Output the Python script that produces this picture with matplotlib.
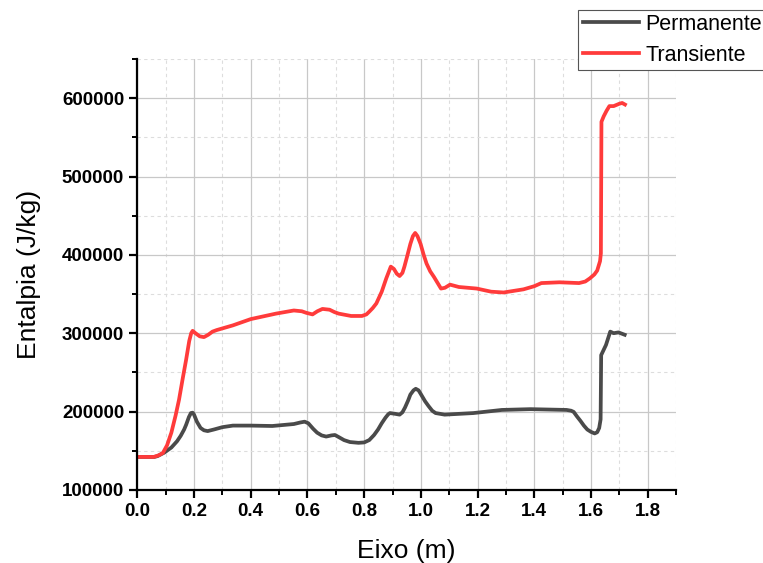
import matplotlib.pyplot as plt
from matplotlib.ticker import MultipleLocator

# dados
x_perm = [0.0, 0.06, 0.071, 0.095, 0.12, 0.14, 0.153, 0.165, 0.172, 0.182, 0.189, 0.195,
          0.2, 0.21, 0.223, 0.235, 0.248, 0.27, 0.3, 0.337,
          0.4, 0.476, 0.552, 0.575, 0.59, 0.603, 0.62, 0.634, 0.65, 0.666, 0.685, 0.697,
          0.712, 0.729, 0.75, 0.78, 0.8, 0.818, 0.835,
          0.849, 0.862, 0.875, 0.885, 0.891, 0.91, 0.925, 0.935, 0.944, 0.955, 0.963,
          0.974, 0.982, 0.992, 1.001, 1.015, 1.027, 1.04, 1.052,
          1.084, 1.185, 1.286, 1.387, 1.514, 1.53, 1.539, 1.55, 1.563, 1.575, 1.587, 1.6,
          1.613, 1.622, 1.629, 1.634, 1.636, 1.653, 1.668, 1.68, 1.697, 1.719]
h_perm = [142000, 142000, 143000, 147500, 154000, 162000, 169000, 177000, 183000, 193000,
          198000, 198500, 196000, 187000, 179000, 176000, 175000, 177000, 180000, 182000,
          182000, 181500, 184000, 186000, 187000, 185000, 178000, 173000, 169500, 168000,
          169500, 170000, 167000, 163500, 161000, 160000, 160500, 163500, 170000,
          177000, 185000, 192000, 196500, 198000, 197000, 196000, 199000, 205000, 214000,
          221600, 227000, 229000, 227000, 221600, 213000, 207000, 201000, 198000,
          196000, 198000, 202000, 203000, 202000, 201000, 199500, 194000, 188000, 182000,
          177000, 174000, 172000, 173500, 179000, 190000, 272000,
          285000, 302000, 300000, 301000, 298000]

x_trans = [0.0, 0.058, 0.075, 0.09, 0.105, 0.12, 0.135, 0.147, 0.16, 0.172, 0.183, 0.19,
           0.195, 0.205, 0.22, 0.235, 0.25, 0.265, 0.28, 0.337, 0.4,
           0.489, 0.552, 0.58, 0.596, 0.618, 0.635, 0.653, 0.678, 0.695, 0.71, 0.754, 0.792,
           0.808, 0.818, 0.83,
           0.843, 0.862, 0.878, 0.894, 0.905, 0.915, 0.925, 0.935, 0.942, 0.953, 0.963,
           0.972, 0.98, 0.988, 0.999, 1.01, 1.02, 1.033, 1.046,
           1.071, 1.085, 1.103, 1.134, 1.197, 1.248, 1.292, 1.362, 1.4, 1.425, 1.489, 1.558,
           1.58, 1.596, 1.612, 1.622, 1.632, 1.635, 1.637, 1.645, 1.655, 1.665, 1.68, 1.70,
           1.71, 1.72]
h_trans = [142000, 142000, 144000, 147000, 157000, 173000, 195000, 215000, 242000,
           266000, 290000, 300000, 303000, 300000, 296000, 295000, 298000, 302000, 304000,
           310000, 318000, 325000, 329000, 328000, 326000, 324000, 328000, 331000, 330000,
           327000, 325000, 322000, 322000, 324000, 327500, 332000,
           338000, 353000, 370000, 385000, 382000, 376000, 373000, 377000, 385000, 400000,
           414000, 424000, 428000, 424000, 414000, 400000, 389000, 379000, 372000,
           357000, 358000, 362000, 359000, 357000, 353000, 352000, 356000, 360000, 364000,
           365000, 364000, 366000, 370000, 375000, 380000, 392000, 402000, 570000, 577000,
           584000, 590000, 590000, 593000, 594000, 592000]

fig = plt.figure(figsize=(7.63, 5.63), dpi=100)
ax = fig.add_axes([0.18, 0.13, 0.706, 0.765])

ax.plot(x_perm, h_perm, color='#4a4a4a', lw=2.7, label='Permanente',
        solid_joinstyle='round')
ax.plot(x_trans, h_trans, color='#ff3b3b', lw=2.7, label='Transiente',
        solid_joinstyle='round')

ax.set_xlim(0, 1.9)
ax.set_ylim(100000, 650000)
ax.xaxis.set_major_locator(MultipleLocator(0.2))
ax.xaxis.set_minor_locator(MultipleLocator(0.1))
ax.yaxis.set_major_locator(MultipleLocator(100000))
ax.yaxis.set_minor_locator(MultipleLocator(50000))
ax.set_yticks([100000, 200000, 300000, 400000, 500000, 600000])

ax.grid(True, which='major', color='#c8c8c8', lw=0.9)
ax.grid(True, which='minor', color='#dddddd', lw=0.8, ls=(0, (3, 3)))
ax.set_axisbelow(True)

for s in ['top', 'right']:
    ax.spines[s].set_visible(False)
for s in ['left', 'bottom']:
    ax.spines[s].set_linewidth(1.6)

ax.tick_params(which='major', direction='out', length=6, width=1.6)
ax.tick_params(which='minor', direction='out', length=3.5, width=1.4)
for lab in ax.get_xticklabels() + ax.get_yticklabels():
    lab.set_fontfamily('Liberation Sans')
    lab.set_fontweight('bold')
    lab.set_fontsize(13.5)

ax.set_xlabel('Eixo (m)', fontsize=19, family='Liberation Sans', labelpad=14)
ax.set_ylabel('Entalpia (J/kg)', fontsize=19, family='Liberation Sans', labelpad=15)

leg = fig.legend(loc='upper left', bbox_to_anchor=(0.758, 0.983), fancybox=False,
                 edgecolor='#555555', framealpha=1, borderpad=0.2, labelspacing=0.45,
                 handlelength=2.6, handletextpad=0.3, borderaxespad=0,
                 prop={'family': 'Liberation Sans', 'size': 15.5})
leg.get_frame().set_linewidth(0.8)

fig.savefig('out.png', dpi=100)
